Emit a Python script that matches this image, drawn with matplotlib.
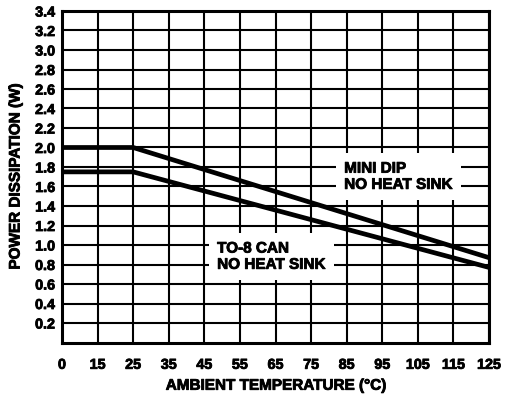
import numpy as np
import matplotlib
matplotlib.use("Agg")
import matplotlib.pyplot as plt
import matplotlib.patheffects as pe

# ---- data ----
tick_temps = [0, 15, 25, 35, 45, 55, 65, 75, 85, 95, 105, 115, 125]
y_ticks = [0.2, 0.4, 0.6, 0.8, 1.0, 1.2, 1.4, 1.6, 1.8, 2.0, 2.2, 2.4, 2.6, 2.8, 3.0, 3.2, 3.4]
temps = [0, 25, 125]
mini_dip = [2.0, 2.0, 0.87]
to8_can = [1.75, 1.75, 0.77]
label_mini = "MINI DIP\nNO HEAT SINK"
label_to8 = "TO-8 CAN\nNO HEAT SINK"

positions = np.arange(len(tick_temps), dtype=float)

def fwd(x):
    return np.interp(x, tick_temps, positions)

def inv(p):
    return np.interp(p, positions, tick_temps)

plt.rcParams['font.family'] = ['Liberation Sans', 'DejaVu Sans']
plt.rcParams['font.weight'] = 'bold'
fx = [pe.withStroke(linewidth=0.6, foreground='black')]

fig = plt.figure(figsize=(5.09, 3.95), dpi=100)
ax = fig.add_axes([62/509, (395-342.5)/395, (489-62)/509, (342.5-11)/395])
ax.set_xscale('function', functions=(fwd, inv))
ax.set_xlim(0, 125)
ax.set_ylim(0, 3.4)
ax.set_xticks(tick_temps)
ax.set_xticklabels([str(t) for t in tick_temps])
ax.set_yticks(y_ticks)
ax.set_yticklabels([f"{v:.1f}" for v in y_ticks])
ax.xaxis.set_minor_locator(matplotlib.ticker.NullLocator())
ax.tick_params(length=0, labelsize=10.3)
ax.tick_params(axis='x', pad=11)
ax.tick_params(axis='y', pad=5)
for lab in ax.get_xticklabels() + ax.get_yticklabels():
    lab.set_fontweight('bold')
    lab.set_path_effects(fx)
ax.grid(True, color='black', linewidth=1.5, zorder=1)
ax.set_axisbelow(True)
for s in ax.spines.values():
    s.set_linewidth(2.2)

ax.plot(temps, mini_dip, color='black', linewidth=3.4, zorder=3, solid_capstyle='butt')
ax.plot(temps, to8_can, color='black', linewidth=3.4, zorder=3, solid_capstyle='butt')

box = dict(facecolor='white', edgecolor='none', pad=6)
ax.text(84.3, 1.70, label_mini, ha='left', va='center', fontsize=11, fontweight='bold',
        linespacing=1.2, bbox=box, zorder=4, path_effects=fx)
ax.text(48.6, 0.88, label_to8, ha='left', va='center', fontsize=11, fontweight='bold',
        linespacing=1.2, bbox=box, zorder=4, path_effects=fx)

ax.set_xlabel("AMBIENT TEMPERATURE (\u00b0C)", fontsize=11, fontweight='bold', labelpad=5,
              path_effects=fx)
ax.set_ylabel("POWER DISSIPATION (W)", fontsize=11, fontweight='bold', labelpad=9,
              path_effects=fx)

fig.savefig("out.png", dpi=100)
